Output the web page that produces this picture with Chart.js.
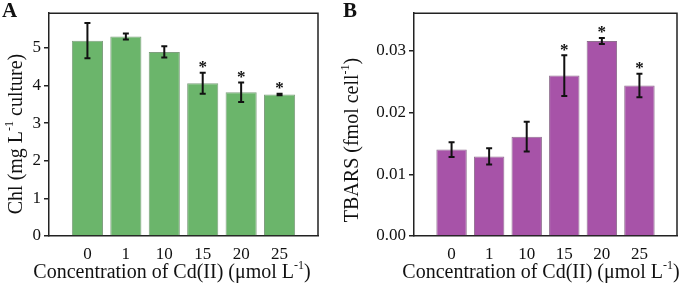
<!DOCTYPE html>
<html>
<head>
<meta charset="utf-8">
<script src="https://cdn.jsdelivr.net/npm/chart.js@4"></script>
<style>
  body { margin: 0; background: #fff; }
  #wrap { position: relative; width: 685px; height: 285px; }
  canvas { position: absolute; top: 0; }
</style>
</head>
<body>
<div id="wrap">
  <canvas id="chartA" width="340" height="285" style="left:0"></canvas>
  <canvas id="chartB" width="345" height="285" style="left:340px"></canvas>
</div>
<script>
// Cd(II) concentrations (umol/L)
const categories = ['0', '1', '10', '15', '20', '25'];

// panel A: chlorophyll (mg/L culture)
const chlValues = [5.19, 5.30, 4.89, 4.06, 3.82, 3.76];
const chlErrors = [0.47, 0.08, 0.15, 0.28, 0.26, 0.02];
const chlStars = [false, false, false, true, true, true];
const chlTicks = [0, 1, 2, 3, 4, 5];

// panel B: TBARS (fmol/cell)
const tbarsValues = [0.0140, 0.0129, 0.0161, 0.0260, 0.0316, 0.0244];
const tbarsErrors = [0.0012, 0.0013, 0.0024, 0.0033, 0.0005, 0.0019];
const tbarsStars = [false, false, false, true, true, true];
const tbarsTicks = [0, 0.01, 0.02, 0.03];

const serif = "'Liberation Serif', 'Times New Roman', serif";

// blank slot on each side so bars sit one step in from the frame
const paddedLabels = [''].concat(categories, ['']);
const pad = arr => [null].concat(arr, [null]);

// draws text with a superscript part, optionally rotated
function drawRich(ctx, parts, x, y, size, rotate) {
  ctx.save();
  ctx.translate(x, y);
  if (rotate) ctx.rotate(-Math.PI / 2);
  ctx.textBaseline = 'middle';
  ctx.fillStyle = '#111';
  let total = 0;
  parts.forEach(p => {
    ctx.font = (p.sup ? size * 0.6 : size) + 'px ' + serif;
    total += ctx.measureText(p.t).width;
  });
  let cx = -total / 2;
  parts.forEach(p => {
    ctx.font = (p.sup ? size * 0.6 : size) + 'px ' + serif;
    ctx.textAlign = 'left';
    ctx.fillText(p.t, cx, p.sup ? -size * 0.38 : 0);
    cx += ctx.measureText(p.t).width;
  });
  ctx.restore();
}

const extras = {
  id: 'extras',
  afterDatasetsDraw(chart, args, opts) {
    const ctx = chart.ctx;
    const xs = chart.scales.x, ys = chart.scales.y;
    const area = chart.chartArea;

    // error bars + significance stars
    ctx.save();
    ctx.strokeStyle = '#111';
    ctx.lineWidth = 2;
    opts.values.forEach((v, i) => {
      const x = xs.getPixelForValue(i + 1);
      const yHi = ys.getPixelForValue(v + opts.errors[i]);
      const yLo = ys.getPixelForValue(v - opts.errors[i]);
      ctx.beginPath();
      ctx.moveTo(x, yHi); ctx.lineTo(x, yLo);
      ctx.moveTo(x - 3, yHi); ctx.lineTo(x + 3, yHi);
      ctx.moveTo(x - 3, yLo); ctx.lineTo(x + 3, yLo);
      ctx.stroke();
      if (opts.stars[i]) {
        ctx.fillStyle = '#111';
        ctx.font = 'bold 17px ' + serif;
        ctx.textAlign = 'center';
        ctx.textBaseline = 'middle';
        ctx.fillText('*', x, yHi - 5);
      }
    });
    ctx.restore();

    // top and right frame lines
    ctx.save();
    ctx.strokeStyle = '#222';
    ctx.lineWidth = 1.5;
    ctx.beginPath();
    ctx.moveTo(area.left, area.top);
    ctx.lineTo(area.right, area.top);
    ctx.lineTo(area.right, area.bottom);
    ctx.stroke();
    ctx.restore();

    // panel letter
    ctx.save();
    ctx.fillStyle = '#111';
    ctx.font = 'bold 21px ' + serif;
    ctx.textAlign = 'left';
    ctx.textBaseline = 'top';
    ctx.fillText(opts.letter, opts.letterX, 1);
    ctx.restore();

    // axis titles
    drawRich(ctx, opts.yTitle, opts.yTitleX, opts.yTitleY, 20, true);
    drawRich(ctx, [
      { t: 'Concentration of Cd(II) (\u03bcmol L' },
      { t: '-1', sup: true },
      { t: ')' }
    ], opts.xTitleX, 273, 20, false);
  }
};

function makeChart(el, cfg) {
  return new Chart(el, {
    type: 'bar',
    data: {
      labels: paddedLabels,
      datasets: [{
        data: pad(cfg.values),
        backgroundColor: cfg.fill,
        borderColor: cfg.border,
        borderWidth: 1,
        barPercentage: 0.81,
        categoryPercentage: 1
      }]
    },
    options: {
      responsive: false,
      animation: false,
      layout: { padding: { top: 7, right: cfg.right, left: 0, bottom: 0 } },
      plugins: {
        legend: { display: false },
        tooltip: { enabled: false },
        extras: cfg.extras
      },
      scales: {
        x: {
          offset: false,
          grid: { display: false, drawTicks: false },
          border: { color: '#222', width: 1.5 },
          ticks: { color: '#111', font: { family: serif, size: 17 }, padding: 8, maxRotation: 0, autoSkip: false },
          afterFit: s => { s.height = 49; }
        },
        y: {
          min: 0,
          max: cfg.max,
          afterBuildTicks: s => { s.ticks = cfg.ticks.map(v => ({ value: v })); },
          grid: { drawOnChartArea: false, drawTicks: true, tickLength: 5, color: '#222', lineWidth: 1.5 },
          border: { color: '#222', width: 1.5 },
          ticks: {
            color: '#111',
            font: { family: serif, size: 17 },
            padding: 3,
            callback: cfg.fmt
          },
          afterFit: s => { s.width = cfg.yWidth; }
        }
      }
    },
    plugins: [extras]
  });
}

makeChart(document.getElementById('chartA'), {
  values: chlValues,
  fill: '#6bb56b',
  border: '#7f9f7f',
  right: 22,
  yWidth: 49,
  max: 5.92,
  ticks: chlTicks,
  fmt: v => String(v),
  extras: {
    values: chlValues, errors: chlErrors, stars: chlStars,
    letter: 'A', letterX: 2,
    yTitle: [{ t: 'Chl (mg L' }, { t: '-1', sup: true }, { t: ' culture)' }],
    yTitleX: 17, yTitleY: 134, xTitleX: 172
  }
});

makeChart(document.getElementById('chartB'), {
  values: tbarsValues,
  fill: '#a753a8',
  border: '#8f6f8f',
  right: 2,
  yWidth: 74,
  max: 0.0361,
  ticks: tbarsTicks,
  fmt: v => v.toFixed(2),
  extras: {
    values: tbarsValues, errors: tbarsErrors, stars: tbarsStars,
    letter: 'B', letterX: 3,
    yTitle: [{ t: 'TBARS (fmol cell' }, { t: '-1', sup: true }, { t: ')' }],
    yTitleX: 13, yTitleY: 140, xTitleX: 201
  }
});
</script>
</body>
</html>
